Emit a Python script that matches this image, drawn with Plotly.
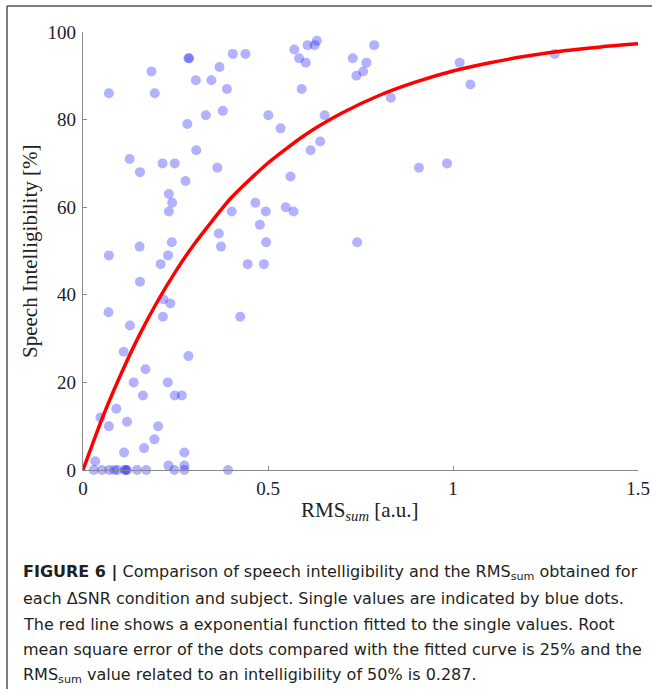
import plotly.graph_objects as go

# ---- data ----
rms_sum = [
    0.07, 0.285, 0.287, 0.185, 0.194, 0.405, 0.439, 0.305, 0.347, 0.369, 0.389,
    0.332, 0.378, 0.282, 0.306, 0.126, 0.154, 0.215, 0.248, 0.277, 0.363,
    0.232, 0.241, 0.232, 0.402, 0.466, 0.494, 0.478, 0.367, 0.373, 0.495,
    0.24, 0.153, 0.501, 0.534, 0.571, 0.584, 0.602, 0.607, 0.626, 0.632,
    0.591, 0.653, 0.615, 0.641, 0.561, 0.548, 0.569,
    0.07, 0.23, 0.21, 0.445, 0.489, 0.154, 0.217, 0.236, 0.069, 0.216,
    0.425, 0.127, 0.110, 0.285, 0.169, 0.137, 0.229, 0.162, 0.248, 0.267,
    0.090, 0.047, 0.119, 0.070, 0.203, 0.193, 0.165, 0.111, 0.274, 0.033,
    0.231, 0.274,
    0.787, 0.729, 0.766, 0.757, 0.739, 0.832, 1.018, 1.047, 1.275, 0.908,
    0.984, 0.741,
    0.029, 0.051, 0.071, 0.085, 0.093, 0.113, 0.116, 0.119, 0.146, 0.171,
    0.247, 0.274, 0.392,
]
intelligibility = [
    86, 94, 94, 91, 86, 95, 95, 89, 89, 92, 87,
    81, 82, 79, 73, 71, 68, 70, 70, 66, 69,
    63, 61, 59, 59, 61, 59, 56, 54, 51, 52,
    52, 51, 81, 78, 96, 94, 93, 97, 97, 98,
    87, 81, 73, 75, 67, 60, 59,
    49, 49, 47, 47, 47, 43, 39, 38, 36, 35,
    35, 33, 27, 26, 23, 20, 20, 17, 17, 17,
    14, 12, 11, 10, 10, 7, 5, 4, 4, 2,
    1, 1,
    97, 94, 93, 91, 90, 85, 93, 88, 95, 69,
    70, 52,
    0, 0, 0, 0, 0, 0, 0, 0, 0, 0,
    0, 0, 0,
]

# fitted exponential curve
fit_x = [0, 0.05, 0.1, 0.15, 0.2, 0.25, 0.3, 0.4, 0.5, 0.6, 0.7, 0.8, 0.9,
         1.0, 1.1, 1.2, 1.3, 1.4, 1.5]
fit_y = [0, 11.4, 21.4, 30.4, 38.3, 45.3, 51.5, 62.1, 70.1, 76.5, 81.5, 85.5,
         88.6, 91.1, 93.0, 94.5, 95.7, 96.6, 97.3]

x_ticks = [0, 0.5, 1, 1.5]
x_tick_labels = ["0", "0.5", "1", "1.5"]
y_ticks = [0, 20, 40, 60, 80, 100]

caption_lines = [
    "<b>FIGURE 6 |</b> Comparison of speech intelligibility and the RMS<sub>sum</sub> obtained for",
    "each ΔSNR condition and subject. Single values are indicated by blue dots.",
    "The red line shows a exponential function fitted to the single values. Root",
    "mean square error of the dots compared with the fitted curve is 25% and the",
    "RMS<sub>sum</sub> value related to an intelligibility of 50% is 0.287.",
]

# ---- layout geometry (pixels) ----
W, H = 652, 689
L, R, T, B = 83, 14, 32, 219
PW, PH = W - L - R, H - T - B


def px2x(px):
    return (px - L) / PW


def py2y(py):
    return (H - B - py) / PH


SERIF = "Liberation Serif, DejaVu Serif, serif"
SANS = "DejaVu Sans, Liberation Sans, sans-serif"
AXIS_COLOR = "#8a8a8a"

fig = go.Figure()
fig.add_trace(go.Scatter(
    x=rms_sum, y=intelligibility, mode="markers",
    marker=dict(size=10, color="rgba(0,0,255,0.3)", line=dict(width=0)),
    cliponaxis=False, showlegend=False, hoverinfo="x+y",
))
fig.add_trace(go.Scatter(
    x=fit_x, y=fit_y, mode="lines",
    line=dict(color="#ff0000", width=3.5, shape="spline", smoothing=0.6),
    cliponaxis=False, showlegend=False,
))

axis_common = dict(
    showgrid=False, zeroline=False, showline=True, linecolor=AXIS_COLOR,
    linewidth=1.3, ticks="inside", ticklen=4, tickwidth=1, tickcolor=AXIS_COLOR,
    tickfont=dict(family=SERIF, size=19, color="#222"), mirror=False,
)
fig.update_xaxes(range=[0, 1.5], tickvals=x_ticks, ticktext=x_tick_labels,
                 ticklabelstandoff=1, **axis_common)
fig.update_yaxes(range=[0, 100], tickvals=y_ticks, ticklabelstandoff=2,
                 **axis_common)

annotations = [
    dict(text="Speech Intelligibility [%]", textangle=-90,
         x=px2x(30), y=py2y(252), xref="paper", yref="paper",
         xanchor="center", yanchor="middle", showarrow=False,
         font=dict(family=SERIF, size=21, color="#222")),
    dict(text="RMS<sub><i>sum</i></sub> [a.u.]",
         x=px2x(360), y=py2y(511), xref="paper", yref="paper",
         xanchor="center", yanchor="middle", showarrow=False,
         font=dict(family=SERIF, size=21, color="#222")),
]
line_y = [572, 598, 624, 649, 675]
for txt, yy in zip(caption_lines, line_y):
    annotations.append(dict(
        text=txt, x=px2x(21), y=py2y(yy), xref="paper", yref="paper",
        xanchor="left", yanchor="middle", showarrow=False, align="left",
        font=dict(family=SANS, size=16, color="#231f20"),
    ))

shapes = [
    dict(type="line", xref="paper", yref="paper",
         x0=px2x(7), x1=px2x(7), y0=py2y(6), y1=py2y(H + 2),
         line=dict(color="#555", width=1.5)),
    dict(type="line", xref="paper", yref="paper",
         x0=px2x(7), x1=px2x(W + 2), y0=py2y(6), y1=py2y(6),
         line=dict(color="#555", width=1.5)),
]

fig.update_layout(
    width=W, height=H, margin=dict(l=L, r=R, t=T, b=B, autoexpand=False),
    paper_bgcolor="white", plot_bgcolor="white",
    annotations=annotations, shapes=shapes,
)

fig.write_html("out.html")
